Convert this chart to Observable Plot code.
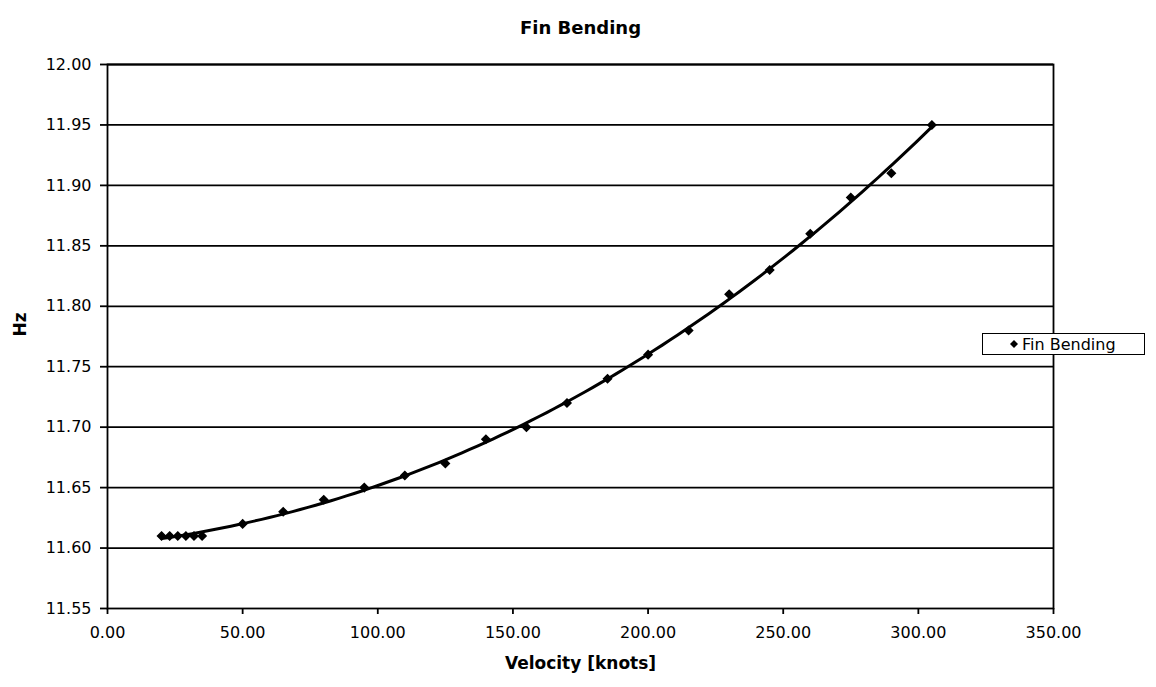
<!DOCTYPE html>
<html>
<head>
<meta charset="utf-8">
<script src="https://cdn.jsdelivr.net/npm/d3@7"></script>
<script src="https://cdn.jsdelivr.net/npm/@observablehq/plot@0.6"></script>
<style>
  html, body { margin: 0; padding: 0; background: #fff; }
  #chart { position: relative; width: 1156px; height: 687px; }
  #legend {
    position: absolute; left: 982px; top: 333px; width: 161px; height: 20px;
    border: 1.5px solid #000; background: #fff;
    font: 16px "DejaVu Sans", sans-serif; color: #000;
    display: flex; align-items: center; box-sizing: content-box;
  }
  #legend svg { margin-left: 26px; margin-right: 3px; }
</style>
</head>
<body>
<div id="chart">
  <div id="legend">
    <svg width="10" height="10" viewBox="-5 -5 10 10"><path d="M0,-4L4,0L0,4L-4,0Z" fill="#000"/></svg>
    <span>Fin Bending</span>
  </div>
</div>
<script>
// Measured natural frequency of fin bending vs. airspeed
const velocity = [20, 23, 26, 29, 32, 35, 50, 65, 80, 95, 110, 125, 140, 155, 170, 185, 200, 215, 230, 245, 260, 275, 290, 305];
const hz = [11.61, 11.61, 11.61, 11.61, 11.61, 11.61, 11.62, 11.63, 11.64, 11.65, 11.66, 11.67, 11.69, 11.70, 11.72, 11.74, 11.76, 11.78, 11.81, 11.83, 11.86, 11.89, 11.91, 11.95];

const xTicks = [0, 50, 100, 150, 200, 250, 300, 350];
const yTicks = [11.55, 11.60, 11.65, 11.70, 11.75, 11.80, 11.85, 11.90, 11.95, 12.00];

const points = velocity.map((v, i) => ({v, f: hz[i]}));

// Polynomial least-squares trendline (order 3) through the measurements
function polyFit(xs, ys, order) {
  const m = order + 1;
  const sx = 100; // scale x for numerical stability
  const A = Array.from({length: m}, () => new Array(m + 1).fill(0));
  xs.forEach((x0, i) => {
    const x = x0 / sx;
    for (let r = 0; r < m; r++) {
      for (let c = 0; c < m; c++) A[r][c] += x ** (r + c);
      A[r][m] += ys[i] * x ** r;
    }
  });
  for (let c = 0; c < m; c++) {
    for (let r = c + 1; r < m; r++) {
      const k = A[r][c] / A[c][c];
      for (let j = c; j <= m; j++) A[r][j] -= k * A[c][j];
    }
  }
  const b = new Array(m).fill(0);
  for (let r = m - 1; r >= 0; r--) {
    let s = A[r][m];
    for (let j = r + 1; j < m; j++) s -= A[r][j] * b[j];
    b[r] = s / A[r][r];
  }
  return x0 => b.reduce((acc, coef, k) => acc + coef * (x0 / sx) ** k, 0);
}
const trend = polyFit(velocity, hz, 3);
const vMin = d3.min(velocity), vMax = d3.max(velocity);
const trendPts = d3.range(0, 101).map(i => {
  const v = vMin + (vMax - vMin) * i / 100;
  return {v, f: trend(v)};
});

const chart = Plot.plot({
  width: 1156,
  height: 687,
  marginLeft: 107,
  marginRight: 103,
  marginTop: 64,
  marginBottom: 79,
  x: {domain: [0, 350]},
  y: {domain: [11.55, 12.0]},
  style: {fontFamily: "DejaVu Sans, sans-serif", fontSize: "16px", color: "#000", background: "#fff"},
  marks: [
    Plot.ruleY(yTicks.slice(1), {stroke: "#000", strokeWidth: 1.8}),
    Plot.frame({stroke: "#000", strokeWidth: 1.8}),
    Plot.axisY({ticks: yTicks, tickFormat: d => d.toFixed(2), tickSize: 7, tickPadding: 9, label: null, strokeWidth: 1.8}),
    Plot.axisX({ticks: xTicks, tickFormat: d => d.toFixed(2), tickSize: 6, tickPadding: 12, label: null, strokeWidth: 1.8}),
    Plot.line(trendPts, {x: "v", y: "f", stroke: "#000", strokeWidth: 3}),
    Plot.dot(points, {x: "v", y: "f", symbol: "diamond2", r: 3.6, fill: "#000", stroke: "#000"}),
    Plot.text(["Fin Bending"], {frameAnchor: "top", dy: -43, fontWeight: "bold", fontSize: 18}),
    Plot.text(["Velocity [knots]"], {frameAnchor: "bottom", dy: 60, fontWeight: "bold", fontSize: 17}),
    Plot.text(["Hz"], {frameAnchor: "left", dx: -87, rotate: -90, fontWeight: "bold", fontSize: 17})
  ]
});
document.getElementById("chart").prepend(chart);
</script>
</body>
</html>
